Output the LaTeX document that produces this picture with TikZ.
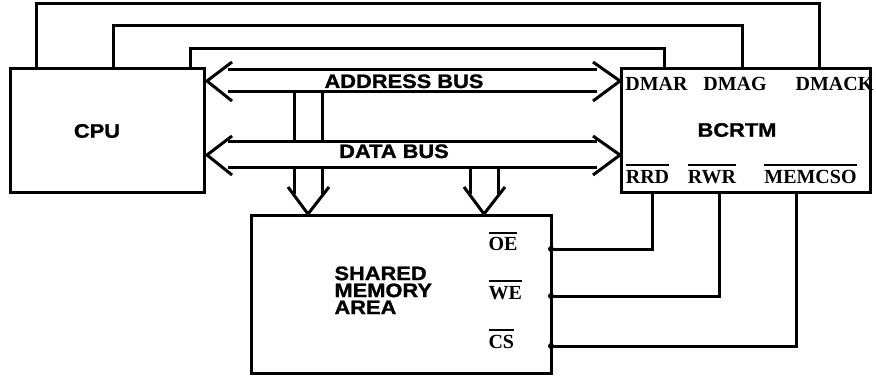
\documentclass[tikz,border=0pt]{standalone}
\usepackage{fontspec}
\setmainfont{Liberation Serif}
\newfontfamily\headfont[FakeStretch=1.12,FakeBold=1.2]{Liberation Sans Bold}
\newcommand{\sig}[1]{\setbox0=\hbox{#1}\rlap{\rule[\dimexpr\ht0+4pt\relax]{\wd0}{1.6pt}}\box0}

\begin{document}
\begin{tikzpicture}[x=1pt,y=-1pt,line width=3pt,
  block/.style={draw,line width=3pt,inner sep=0pt},
  head/.style={font=\headfont\fontsize{19.5}{17}\selectfont,inner sep=0pt},
  pinname/.style={font=\bfseries\fontsize{20}{22}\selectfont,inner sep=0pt}]
  \useasboundingbox (0,0) rectangle (876,377);

  % boxes
  \node[block,minimum width=194pt,minimum height=124pt] (cpu) at (107,131) {};
  \node[block,minimum width=249pt,minimum height=124pt] (bcrtm) at (745.5,131) {};
  \node[block,minimum width=300pt,minimum height=158pt] (mem) at (401,294) {};
  \node[head] (cpu text) at (97,131) {CPU};
  \node[head] (bcrtm text) at (737,130) {BCRTM};
  \node[head,align=left,anchor=north west] (mem text) at (333,265) {SHARED\\MEMORY\\AREA};

  % buses
  \draw (228,70) -- (597,70) (228,92) -- (597,92);
  \draw (232,62) -- (207,81) -- (232,101);
  \draw (593,62) -- (620,81) -- (593,101);
  \draw (228,142) -- (597,142) (228,168) -- (597,168);
  \draw (232,136) -- (207,155) -- (232,175);
  \draw (593,136) -- (620,155) -- (593,175);
  \node[head,anchor=base] (abus) at (404,88) {ADDRESS BUS};
  \node[head,anchor=base] (dbus) at (394,158) {DATA BUS};

  % down to memory
  \draw (294,92) -- (294,142) (322,92) -- (322,142);
  \draw (294,168) -- (294,194) (322,168) -- (322,194);
  \draw (288,187) -- (308,214) -- (329,187);
  \draw (470,168) -- (470,194) (498,168) -- (498,194);
  \draw (464,187) -- (484,214) -- (505,187);

  % signal names
  \node[pinname,anchor=base] (dmar) at (656.5,91) {DMAR};
  \node[pinname,anchor=base] (dmag) at (735,91) {DMAG};
  \node[pinname,anchor=base] (dmack) at (834.5,91) {DMACK};
  \node[pinname,anchor=base] (rrd) at (647.5,183) {\sig{RRD}};
  \node[pinname,anchor=base] (rwr) at (712,183) {\sig{RWR}};
  \node[pinname,anchor=base] (memcso) at (810.5,183) {\sig{MEMCSO}};
  \node[pinname,anchor=base west] (oe) at (487,251) {\sig{OE}};
  \node[pinname,anchor=base west] (we) at (487,299) {\sig{WE}};
  \node[pinname,anchor=base west] (cs) at (487,348) {\sig{CS}};

  % control lines
  \coordinate (cpu a) at (36,69);
  \coordinate (cpu b) at (113,69);
  \coordinate (cpu c) at (190,69);
  \coordinate (dmar pin) at (664,69);
  \coordinate (dmag pin) at (742,69);
  \coordinate (dmack pin) at (819,69);
  \draw (cpu a) |- (dmack pin |- 0,4) -- (dmack pin);
  \draw (cpu b) |- (dmag pin |- 0,26) -- (dmag pin);
  \draw (cpu c) |- (dmar pin |- 0,49) -- (dmar pin);

  \coordinate (rrd pin) at (652,193);
  \coordinate (rwr pin) at (719,193);
  \coordinate (memcso pin) at (796,193);
  \coordinate (oe pin) at (551,249);
  \coordinate (we pin) at (551,296);
  \coordinate (cs pin) at (551,346);
  \draw (oe pin) -| (rrd pin);
  \draw (we pin) -| (rwr pin);
  \draw (cs pin) -| (memcso pin);
  \fill (oe pin) circle (3pt);
  \fill (we pin) circle (3pt);
  \fill (cs pin) circle (3pt);
\end{tikzpicture}
\end{document}
